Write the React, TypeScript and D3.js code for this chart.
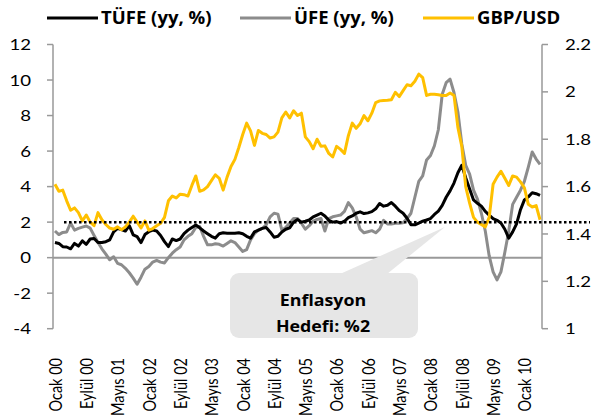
import React from "react";
import * as d3 from "d3";

// aylık seri: Ocak 2000 - Mayıs 2010
const monthNames = ["Ocak", "Şubat", "Mart", "Nisan", "Mayıs", "Haziran", "Temmuz", "Ağustos", "Eylül", "Ekim", "Kasım", "Aralık"];
const startYear = 2000;
const nMonths = 125;

const tufe = [
  0.85, 0.8, 0.62, 0.6, 0.5, 0.8, 0.65, 0.95, 0.75, 1.05,
  1.08, 0.85, 0.85, 0.9, 1.0, 1.45, 1.65, 1.58, 1.5, 1.8,
  1.28, 1.18, 0.85, 1.3, 1.46, 1.55, 1.5, 1.25, 0.9, 0.62,
  1.05, 0.96, 1.05, 1.35, 1.55, 1.7, 1.84, 1.68, 1.5, 1.35,
  1.2, 1.1, 1.35, 1.4, 1.38, 1.37, 1.37, 1.4, 1.35, 1.2,
  1.1, 1.45, 1.55, 1.65, 1.7, 1.45, 1.15, 1.2, 1.45, 1.6,
  1.68, 2.0, 2.15, 2.0, 2.05, 2.12, 2.3, 2.4, 2.5, 2.35,
  2.1, 2.0, 2.03, 1.95, 2.05, 2.25, 2.35, 2.5, 2.58, 2.48,
  2.52, 2.59, 2.75, 3.05, 2.9, 2.95, 3.1, 2.9, 2.65, 2.5,
  2.22, 1.85, 1.85, 1.95, 2.05, 2.12, 2.2, 2.43, 2.62, 2.94,
  3.4, 3.76, 4.2, 4.78, 5.2, 4.5, 3.87, 3.25, 3.06, 2.9,
  2.6, 2.4, 2.2, 2.1, 1.95, 1.6, 1.1, 1.45, 1.9, 2.7,
  3.25, 3.42, 3.65, 3.6, 3.5,
];

const ufe = [
  1.5, 1.3, 1.42, 1.45, 1.95, 1.55, 1.65, 1.72, 1.78, 1.66,
  1.25, 0.85, 0.5, 0.2, -0.12, 0.05, -0.32, -0.4, -0.6, -0.85,
  -1.15, -1.5, -1.1, -0.65, -0.5, -0.25, -0.15, -0.25, -0.3, 0.0,
  0.25, 0.45, 0.6, 1.0, 1.2, 1.35, 1.7, 1.75, 1.2, 0.72,
  0.72, 0.78, 0.75, 0.65, 0.8, 0.95, 0.85, 0.6, 0.35, 0.45,
  1.0, 1.35, 1.55, 1.65, 1.85, 2.3, 2.5, 2.45, 1.55, 1.7,
  1.95, 2.2, 2.2, 1.94, 1.6, 1.8, 2.05, 2.15, 2.2, 1.5,
  2.2, 2.3, 2.35, 2.4, 2.6, 3.1, 2.8, 2.3, 1.6, 1.4,
  1.46, 1.52, 1.4, 1.6, 2.1, 1.9, 1.9, 1.94, 1.94, 1.96,
  2.2, 2.5, 3.4, 4.3, 4.6, 5.5, 5.75, 6.3, 7.2, 9.2,
  9.85, 10.05, 9.3, 8.2, 6.4, 5.2, 4.7, 3.8, 3.3, 2.5,
  1.5, 0.1, -0.8, -1.25, -0.8, 0.3, 1.5, 3.0, 3.4, 3.8,
  4.3, 5.1, 5.95, 5.55, 5.25,
];

const gbpusd = [
  1.61, 1.58, 1.585, 1.54, 1.5, 1.51, 1.49, 1.455, 1.48, 1.45,
  1.435, 1.49, 1.46, 1.44, 1.425, 1.42, 1.43, 1.418, 1.43, 1.45,
  1.475, 1.45, 1.425, 1.455, 1.416, 1.423, 1.435, 1.445, 1.47, 1.54,
  1.56, 1.552, 1.568, 1.566, 1.56, 1.605, 1.645, 1.58, 1.586, 1.6,
  1.625, 1.65, 1.635, 1.585, 1.64, 1.685, 1.715, 1.765, 1.82, 1.868,
  1.835, 1.774, 1.837, 1.825, 1.82, 1.805, 1.81, 1.83, 1.89, 1.915,
  1.89, 1.92, 1.9, 1.91, 1.81, 1.79, 1.76, 1.8, 1.77, 1.772,
  1.74, 1.725, 1.77, 1.757, 1.74, 1.815, 1.868, 1.846, 1.865, 1.9,
  1.878, 1.91, 1.955, 1.962, 1.964, 1.965, 1.967, 1.998, 1.98, 2.005,
  2.03, 2.026, 2.045, 2.075, 2.06, 1.985, 1.99, 1.99, 1.988, 1.985,
  1.985, 1.995, 1.985, 1.85, 1.77, 1.6, 1.53, 1.47, 1.45, 1.44,
  1.43, 1.47, 1.61, 1.64, 1.665, 1.635, 1.605, 1.645, 1.64, 1.62,
  1.595, 1.525, 1.514, 1.52, 1.46,
];

const tickLabels = [
  "Ocak 00", "Eylül 00", "Mayıs 01", "Ocak 02", "Eylül 02", "Mayıs 03", "Ocak 04", "Eylül 04",
  "Mayıs 05", "Ocak 06", "Eylül 06", "Mayıs 07", "Ocak 08", "Eylül 08", "Mayıs 09", "Ocak 10",
];
const leftTicks = [12, 10, 8, 6, 4, 2, 0, -2, -4];
const rightTicks = [2.2, 2, 1.8, 1.6, 1.4, 1.2, 1];
const target = 2;

const seriesNames = ["TÜFE (yy, %)", "ÜFE (yy, %)", "GBP/USD"];
const colors = ["#000000", "#8c8c8c", "#ffc000"];

const categories = d3.range(nMonths).map(i => {
  const m = i % 12;
  const y = (startYear + Math.floor(i / 12)) % 100;
  return `${monthNames[m]} ${String(y).padStart(2, "0")}`;
});

const font = "Lato, 'Open Sans', sans-serif";
const boldFont = "'Open Sans', Lato, sans-serif";
const sx = 1.2; // yazılar yatayda biraz geniş

export default function App() {
  const width = 593;
  const height = 419;
  const left = 53, right = 542, top = 44.5, bottom = 328.7;

  const x = d3.scalePoint<string>().domain(categories).range([left, right]).padding(0.5);
  const yL = d3.scaleLinear().domain([-4, 12]).range([bottom, top]);
  const yR = d3.scaleLinear().domain([1, 2.2]).range([bottom, top]);

  const lineL = d3.line<number>().x((d, i) => x(categories[i])!).y(d => yL(d));
  const lineR = d3.line<number>().x((d, i) => x(categories[i])!).y(d => yR(d));

  const axisColor = "#999999";
  const ty = yL(target);

  const legend = [
    { name: seriesNames[0], color: colors[0], x: 47 },
    { name: seriesNames[1], color: colors[1], x: 240 },
    { name: seriesNames[2], color: colors[2], x: 423 },
  ];

  // callout kutusu
  const box = { x: 230, y: 273, w: 188, h: 65 };

  return (
    <svg width={width} height={height} style={{ position: "absolute", left: 0, top: 0 }}>
      <rect width={width} height={height} fill="#fff" />

      {/* sıfır çizgisi */}
      <line x1={left} x2={right} y1={yL(0)} y2={yL(0)} stroke={axisColor} strokeWidth={2} />

      {/* sol eksen */}
      <line x1={left} x2={left} y1={top} y2={bottom} stroke={axisColor} strokeWidth={1.5} />
      {leftTicks.map(t => (
        <g key={"l" + t}>
          <line x1={left - 6} x2={left} y1={yL(t)} y2={yL(t)} stroke={axisColor} strokeWidth={1.5} />
          <text transform={`translate(31,${yL(t)}) scale(${sx},1)`} dy="0.36em" textAnchor="end"
            fontFamily={font} fontSize={15.5} fill="#000">{t}</text>
        </g>
      ))}

      {/* sağ eksen */}
      <line x1={right} x2={right} y1={top} y2={bottom} stroke={axisColor} strokeWidth={1.5} />
      {rightTicks.map(t => (
        <g key={"r" + t}>
          <line x1={right} x2={right + 6} y1={yR(t)} y2={yR(t)} stroke={axisColor} strokeWidth={1.5} />
          <text transform={`translate(565,${yR(t)}) scale(${sx},1)`} dy="0.36em" textAnchor="start"
            fontFamily={font} fontSize={15.5} fill="#000">{t}</text>
        </g>
      ))}

      {/* x etiketleri */}
      {tickLabels.map(lbl => {
        const px = x(categories[categories.indexOf(lbl)])!;
        return (
          <text key={lbl} transform={`translate(${px + 0.5},358) scale(${sx},1) rotate(-90)`} dy="0.36em" textAnchor="end"
            fontFamily={font} fontSize={14.5} fill="#000">{lbl}</text>
        );
      })}

      {/* callout */}
      <path
        d={`M${box.x + 110},${box.y + 1} L${box.x + 157},${box.y + 1} L${445},${227} Z`}
        fill="#e6e6e6"
      />
      <rect x={box.x} y={box.y} width={box.w} height={box.h} rx={9} fill="#e6e6e6" />
      <text transform={`translate(${box.x + box.w / 2 - 1},306) scale(1.08,1)`} textAnchor="middle"
        fontFamily={boldFont} fontWeight="bold" fontSize={16.5}>Enflasyon</text>
      <text transform={`translate(${box.x + box.w / 2 - 1},332) scale(1.08,1)`} textAnchor="middle"
        fontFamily={boldFont} fontWeight="bold" fontSize={16.5}>Hedefi: %2</text>

      {/* seriler */}
      <path d={lineL(ufe)!} fill="none" stroke={colors[1]} strokeWidth={3} strokeLinejoin="round" />
      <path d={lineL(tufe)!} fill="none" stroke={colors[0]} strokeWidth={3} strokeLinejoin="round" />
      <path d={lineR(gbpusd)!} fill="none" stroke={colors[2]} strokeWidth={3} strokeLinejoin="round" />

      {/* hedef çizgisi */}
      <line x1={64} x2={590} y1={ty} y2={ty} stroke="#000" strokeWidth={2.5} strokeDasharray="2.5,2.5" />

      {/* lejant */}
      {legend.map(l => (
        <g key={l.name}>
          <line x1={l.x} x2={l.x + 51} y1={18} y2={18} stroke={l.color} strokeWidth={3} />
          <text transform={`translate(${l.x + 54},18) scale(1.06,1)`} dy="0.36em"
            fontFamily={boldFont} fontWeight="bold" fontSize={17.5}>{l.name}</text>
        </g>
      ))}
    </svg>
  );
}
